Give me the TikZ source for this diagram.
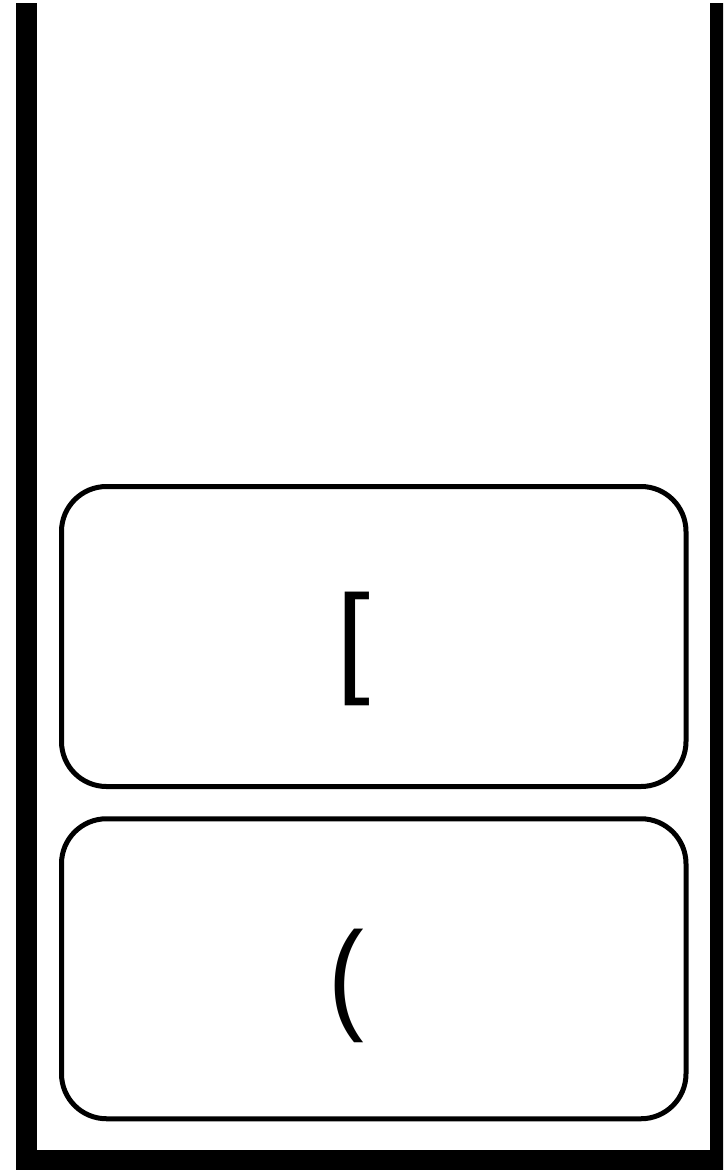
\documentclass[tikz,border=0pt]{standalone}
\usepackage{fontspec}
\setmainfont{Liberation Sans}
\begin{document}
\begin{tikzpicture}[x=1pt,y=-1pt,
  wall/.style={line width=21pt, line join=miter},
  slot/.style={draw, line width=5pt, rounded corners=45pt, minimum width=624.5pt, minimum height=300pt, inner sep=0pt},
  sym/.style={inner sep=0pt, font=\fontsize{122}{122}\selectfont}]
\useasboundingbox (0,0) rectangle (723,1170);
\begin{scope}
\clip (0,0) rectangle (723,1170);
\coordinate (tl) at (26.5,3);
\coordinate (bl) at (26.5,1160.5);
\coordinate (br) at (720.5,1160.5);
\coordinate (tr) at (720.5,3);
\draw[wall] (tl) -- (bl) -- (br) -- (tr);
\end{scope}
\node[slot] (top) at (373.75,636.5) {};
\node[slot] (bottom) at (373.75,968.75) {};
\node[sym] (topsym) at ([shift={(-20,12.5)}]top.center) {[};
\node[sym] (botsym) at ([shift={(-27,17)}]bottom.center) {\scalebox{0.88}[1]{(}};
\end{tikzpicture}
\end{document}
